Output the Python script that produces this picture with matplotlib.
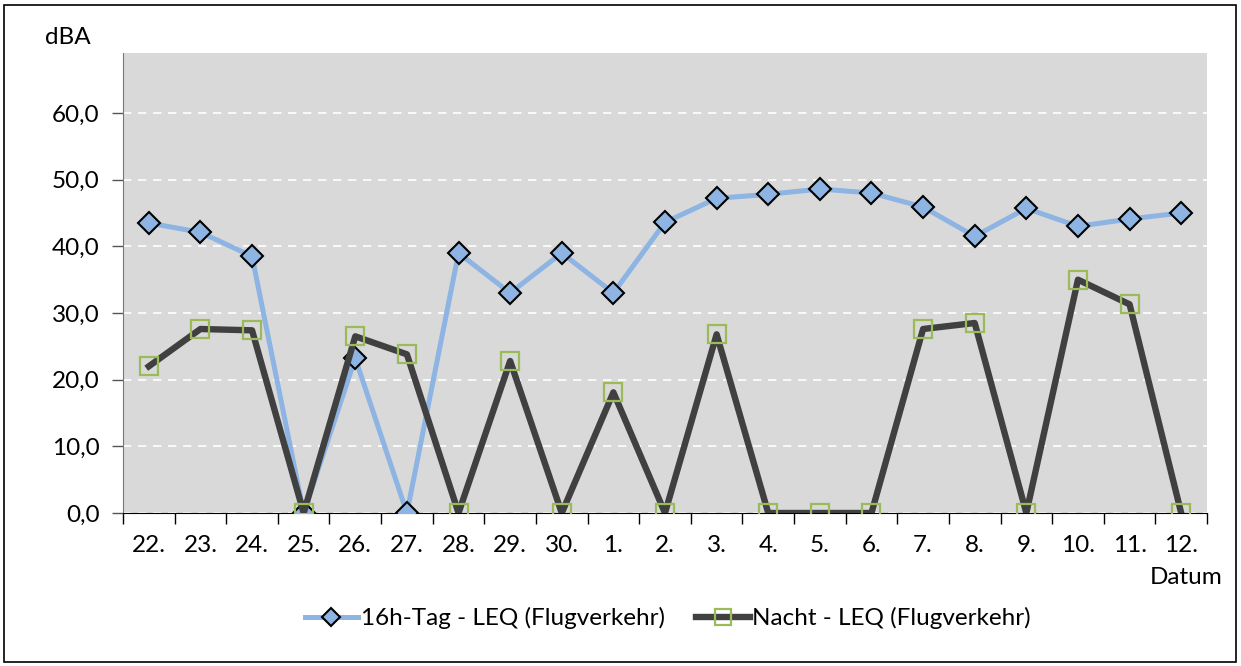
import matplotlib.pyplot as plt
from matplotlib.patches import Rectangle
from matplotlib.ticker import FixedLocator

plt.rcParams['font.family'] = ['Lato', 'DejaVu Sans']

dates = ['22.', '23.', '24.', '25.', '26.', '27.', '28.', '29.', '30.', '1.',
         '2.', '3.', '4.', '5.', '6.', '7.', '8.', '9.', '10.', '11.', '12.']
tag = [43.5, 42.1, 38.5, 0.0, 23.2, 0.0, 39.0, 33.0, 39.0, 33.0,
       43.6, 47.2, 47.8, 48.6, 48.0, 45.9, 41.5, 45.7, 43.0, 44.1, 45.0]
nacht = [22.0, 27.6, 27.4, 0.0, 26.5, 23.8, 0.0, 22.8, 0.0, 18.1,
         0.0, 26.8, 0.0, 0.0, 0.0, 27.6, 28.5, 0.0, 35.0, 31.3, 0.0]
yticks = [0, 10, 20, 30, 40, 50, 60]

fs = 17.5

fig = plt.figure(figsize=(12.41, 6.66), dpi=100)
ax = fig.add_axes([123 / 1241, 1 - 513 / 666, (1207 - 123) / 1241, (513 - 53) / 666])
ax.set_facecolor('#d9d9d9')

x = list(range(len(dates)))
ax.plot(x, tag, color='#8db4e2', lw=3.6, marker='D', ms=11,
        mfc='#8db4e2', mec='black', mew=1.5, zorder=3,
        label='16h-Tag - LEQ (Flugverkehr)')
ax.plot(x, nacht, color='#404040', lw=4.6, marker='s', ms=13.5,
        mfc='none', mec='#9bbb59', mew=1.6, zorder=4,
        label='Nacht - LEQ (Flugverkehr)')

ax.set_xlim(-0.5, len(dates) - 0.5)
ax.set_ylim(0, 69)
ax.set_yticks(yticks)
ax.set_yticklabels([f'{v:.1f}'.replace('.', ',') for v in yticks], fontsize=fs)
ax.set_xticks(x)
ax.set_xticklabels(dates, fontsize=fs)
ax.xaxis.set_minor_locator(FixedLocator([i - 0.5 for i in range(len(dates) + 1)]))
ax.tick_params(axis='x', which='major', length=0, pad=16)
ax.tick_params(axis='x', which='minor', length=8, width=1, color='black')
ax.tick_params(axis='y', length=8, width=1, color='#555555', pad=9)

ax.grid(axis='y', color='white', linestyle=(0, (5, 4)), lw=1.2)
ax.set_axisbelow(True)
for s in ['top', 'right']:
    ax.spines[s].set_visible(False)
ax.spines['left'].set_color('#777777')
ax.spines['bottom'].set_color('black')

fig.text(45 / 1241, 1 - 37 / 666, 'dBA', fontsize=fs, va='center', ha='left')
fig.text(1222 / 1241, 1 - 577 / 666, 'Datum', fontsize=fs, va='center', ha='right')

leg = fig.legend(loc='center', bbox_to_anchor=(0.538, 1 - 618 / 666), ncol=2,
                 frameon=False, fontsize=fs, handlelength=2.2,
                 handletextpad=0.1, columnspacing=1.3, markerscale=0.85)

fig.patches.append(Rectangle((4 / 1241, 4 / 666), 1232 / 1241, 657 / 666,
                             transform=fig.transFigure, fill=False,
                             edgecolor='black', lw=1.2))

fig.savefig('out.png', dpi=100)
